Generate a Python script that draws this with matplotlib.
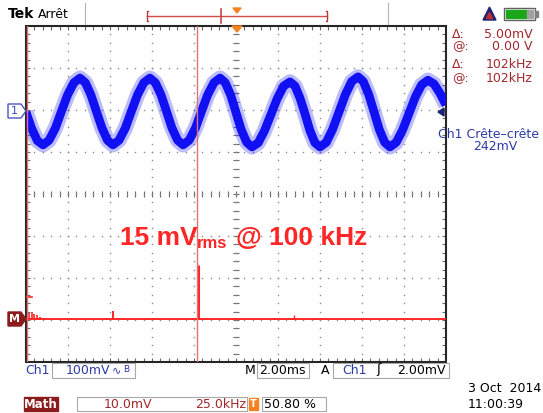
import numpy as np
import matplotlib
matplotlib.use("Agg")
import matplotlib.pyplot as plt
from matplotlib.patches import Rectangle, Polygon
from matplotlib.collections import LineCollection

W, H = 543, 413

# ---------------- data ----------------
ch1_time_ms = [-10.00, -9.73, -9.46, -9.19,
               -8.90, -8.60, -8.31, -8.02, -7.72, -7.43,
               -7.17, -6.91, -6.65, -6.38, -6.12, -5.86,
               -5.57, -5.27, -4.98, -4.69, -4.39, -4.10,
               -3.84, -3.57, -3.31, -3.05, -2.78, -2.52,
               -2.23, -1.93, -1.64, -1.35, -1.05, -0.76,
               -0.51, -0.25, 0.00, 0.25, 0.51, 0.76,
               1.06, 1.36, 1.67, 1.97, 2.27, 2.57,
               2.81, 3.05, 3.29, 3.52, 3.76, 4.00,
               4.30, 4.60, 4.91, 5.21, 5.51, 5.81,
               6.06, 6.32, 6.57, 6.82, 7.08, 7.33,
               7.63, 7.93, 8.24, 8.54, 8.84, 9.14,
               9.43, 9.71, 10.00]
ch1_mv = [-5, -44, -73, -83,
          -72, -43, -3, 36, 65, 76,
          65, 36, -3, -43, -72, -83,
          -72, -43, -3, 36, 65, 76,
          65, 36, -3, -43, -72, -83,
          -72, -43, -3, 36, 65, 76,
          65, 35, -6, -47, -77, -88,
          -78, -49, -10, 28, 57, 67,
          57, 28, -10, -49, -78, -88,
          -77, -46, -4, 37, 68, 79,
          68, 37, -4, -46, -77, -88,
          -77, -48, -8, 31, 60, 71,
          62, 40, 12]

math_spike_khz = [2.0, 3.5, 5.0, 6.5, 8.5, 51.6, 102.5, 159.5]
math_spike_mv = [1.5, 1.8, 1.3, 1.0, 0.6, 1.9, 12.9, 0.9]
math_dc_khz = [0.0, 3.6]
math_dc_mv = [5.2, 5.2]
cursor_khz = [0.3, 102.0]

readout_labels = ["Δ:", "@:", "Δ:", "@:"]
readout_values = ["5.00mV", "0.00 V", "102kHz", "102kHz"]
measure_title = "Ch1 Crête–crête"
measure_value = "242mV"
annotation = ["15 mV", "rms", "@ 100 kHz"]
ch1_scale = "100mV"
time_scale = "2.00ms"
trig_level = "2.00mV"
math_scale = "10.0mV"
math_freq = "25.0kHz"
trig_pos = "50.80 %"
date_str = "3 Oct  2014"
time_str = "11:00:39"

# ---------------- colours ----------------
DARKRED = "#a3282c"
NAVY = "#2b3aa6"
BLUE = "#1010f2"
RED = "#ff2626"
CURSOR = "#e07474"
GRID = "#8c8c8c"
ORANGE = "#f5821f"

fig = plt.figure(figsize=(W / 100, H / 100), dpi=100)
fig.patch.set_facecolor("white")
rect = [26 / W, 1 - 362 / H, 420 / W, 336 / H]

# graticule axes (divisions)
axg = fig.add_axes(rect)
axg.set_xlim(0, 10)
axg.set_ylim(0, 8)
axg.axis("off")
px = 1 / 42.0
minx = np.arange(0, 10.001, 0.2)
miny = np.arange(0, 8.001, 0.2)
for i in range(1, 10):
    if i == 5:
        continue
    axg.plot([i] * len(miny), miny, "s", ms=1.0, mew=0, color=GRID)
for j in range(1, 8):
    if j == 4:
        continue
    axg.plot(minx, [j] * len(minx), "s", ms=1.0, mew=0, color=GRID)
segs = []
for y in miny[1:-1]:
    segs.append([(5 - 3 * px, y), (5 + 3 * px, y)])
    segs.append([(0, y), (4 * px, y)])
    segs.append([(10, y), (10 - 4 * px, y)])
for x in minx[1:-1]:
    segs.append([(x, 4 - 3 * px), (x, 4 + 3 * px)])
    segs.append([(x, 0), (x, 4 * px)])
    segs.append([(x, 8), (x, 8 - 4 * px)])
axg.add_collection(LineCollection(segs, colors="#6a6a6a", linewidths=0.8))
axg.plot([5] * len(miny), miny, "s", ms=1.0, mew=0, color=GRID)
axg.plot(minx, [4] * len(minx), "s", ms=1.0, mew=0, color=GRID)
axg.add_patch(Rectangle((0, 0), 10, 8, fill=False, lw=1.5, ec="#262626",
                        clip_on=False, zorder=5))

# channel 1 axes (ms, mV)
ax1 = fig.add_axes(rect, facecolor="none")
ax1.set_xlim(-10, 10)
ax1.set_ylim(-600, 200)
ax1.axis("off")
ax1.plot(ch1_time_ms, ch1_mv, color=BLUE, lw=11.0, alpha=0.28,
         solid_joinstyle="round", solid_capstyle="butt")
ax1.plot(ch1_time_ms, ch1_mv, color=BLUE, lw=6.3,
         solid_joinstyle="round", solid_capstyle="butt")

# math axes (kHz, mV)
ax2 = fig.add_axes(rect, facecolor="none")
ax2.set_xlim(0, 250)
ax2.set_ylim(-10.2, 69.8)
ax2.axis("off")
ax2.axhline(0, color=RED, lw=1.4)
ax2.vlines(math_spike_khz, 0, math_spike_mv, colors=RED,
           linewidths=[1.2, 1.2, 1.2, 1.2, 1.2, 1.4, 2.2, 1.0])
ax2.plot(math_dc_khz, math_dc_mv, color=RED, lw=1.2)
for c in cursor_khz:
    ax2.axvline(c, color=CURSOR, lw=1.0)

# overlay in pixel coordinates
ov = fig.add_axes([0, 0, 1, 1], facecolor="none")
ov.set_xlim(0, W)
ov.set_ylim(H, 0)
ov.axis("off")

UI = "DejaVu Sans"
FS = 9.0


def txt(x, y, s, color="black", ha="left", va="center", size=FS, **kw):
    ov.text(x, y, s, color=color, ha=ha, va=va, fontsize=size,
            family=UI, **kw)


# top bar
txt(8, 14, "Tek", size=10, weight="bold")
txt(38, 14, "Arrêt", size=9)
ov.plot([85, 85], [3, 24], color="#b4b4b4", lw=0.8)
ov.plot([388, 388], [3, 24], color="#b4b4b4", lw=0.8)
ov.plot([147, 327], [16, 16], color="#d24c4c", lw=1.0)
ov.plot([148, 147, 147, 148], [11, 11, 21, 21], color="#b83a3a", lw=1.0)
ov.plot([326, 327, 327, 326], [11, 11, 21, 21], color="#b83a3a", lw=1.0)
ov.plot([221, 221], [9, 23], color="#c84848", lw=1.2)
ov.add_patch(Polygon([(233, 8), (241, 8), (237, 13)], color=ORANGE))
ov.add_patch(Polygon([(232, 26), (242, 26), (237, 32)], color=ORANGE, zorder=6))

# top right icons
ov.add_patch(Polygon([(483, 20), (496, 20), (489.5, 7)], color="#1e2470"))
ov.add_patch(Polygon([(486.5, 18.5), (492.5, 18.5), (489.5, 12.5)],
                     color="#c03030"))
ov.add_patch(Rectangle((504, 8), 31, 12, fill=False, ec="#606060", lw=1.0))
ov.add_patch(Rectangle((506, 10), 21, 8, color="#1aa81a"))
ov.add_patch(Rectangle((527, 10), 6, 8, color="#a0a0a0"))
ov.add_patch(Rectangle((535, 11), 3, 6, color="#808080"))

# right readouts
for lab, val, y in zip(readout_labels, readout_values, [34, 47, 64, 79]):
    txt(452, y, lab, color=DARKRED)
    txt(533, y, val, color=DARKRED, ha="right")
txt(489, 134, measure_title, color=NAVY, ha="center")
txt(495, 147, measure_value, color=NAVY, ha="center")

# channel markers
ov.add_patch(Polygon([(8, 104), (21, 104), (26, 111), (21, 118), (8, 118)],
                     closed=True, fc="white", ec="#4a58c0", lw=1.0))
txt(14, 111, "1", color="#3a48b8", ha="center", size=8)
ov.add_patch(Polygon([(8, 312), (21, 312), (26, 319), (21, 326), (8, 326)],
                     closed=True, fc="#8c1c1c", ec="#8c1c1c", lw=1.0))
txt(14.5, 319, "M", color="white", ha="center", size=8, weight="bold")
ov.add_patch(Polygon([(444, 108), (444, 116), (438, 112)], color="#1e2470",
                     zorder=6))

# big annotation
BIG = "Liberation Sans"
ov.text(120, 245, annotation[0], color=RED, fontsize=19, weight="bold",
        family=BIG, ha="left", va="baseline")
ov.text(197, 248, annotation[1], color=RED, fontsize=12, weight="bold",
        family=BIG, ha="left", va="baseline")
ov.text(236, 245, annotation[2], color=RED, fontsize=19, weight="bold",
        family=BIG, ha="left", va="baseline")

# bottom row 1
def box(x0, y0, x1, y1):
    ov.add_patch(Rectangle((x0, y0), x1 - x0, y1 - y0, fill=False,
                           ec="#a8a8a8", lw=0.8))


txt(25, 370, "Ch1", color=NAVY)
box(52, 363, 135, 378)
txt(66, 370, ch1_scale, color=NAVY)
txt(112, 370, "∿", color=NAVY, size=8)
txt(123, 370, "B", color=NAVY, size=6.5)
txt(245, 370, "M")
box(257, 363, 309, 378)
txt(259, 370, time_scale)
txt(321, 370, "A")
box(333, 363, 449, 378)
txt(342, 370, "Ch1", color=NAVY)
txt(376, 370, "ʃ", size=9.5)
txt(446, 370, trig_level, ha="right")

# bottom row 2
ov.add_patch(Rectangle((24, 397), 34, 14, color="#8c1c1c"))
txt(41, 404, "Math", color="white", ha="center", size=8.5, weight="bold")
box(77, 397, 247, 411)
txt(104, 404, math_scale, color=DARKRED)
txt(246, 404, math_freq, color=DARKRED, ha="right")
ov.add_patch(Rectangle((249, 398), 9, 12, color=ORANGE))
txt(253.5, 404, "T", color="white", ha="center", size=7, weight="bold")
box(262, 397, 326, 411)
txt(264, 404, trig_pos)
txt(541, 389, date_str, ha="right")
txt(468, 404, time_str)

fig.savefig("out.png", dpi=100, facecolor="white")
